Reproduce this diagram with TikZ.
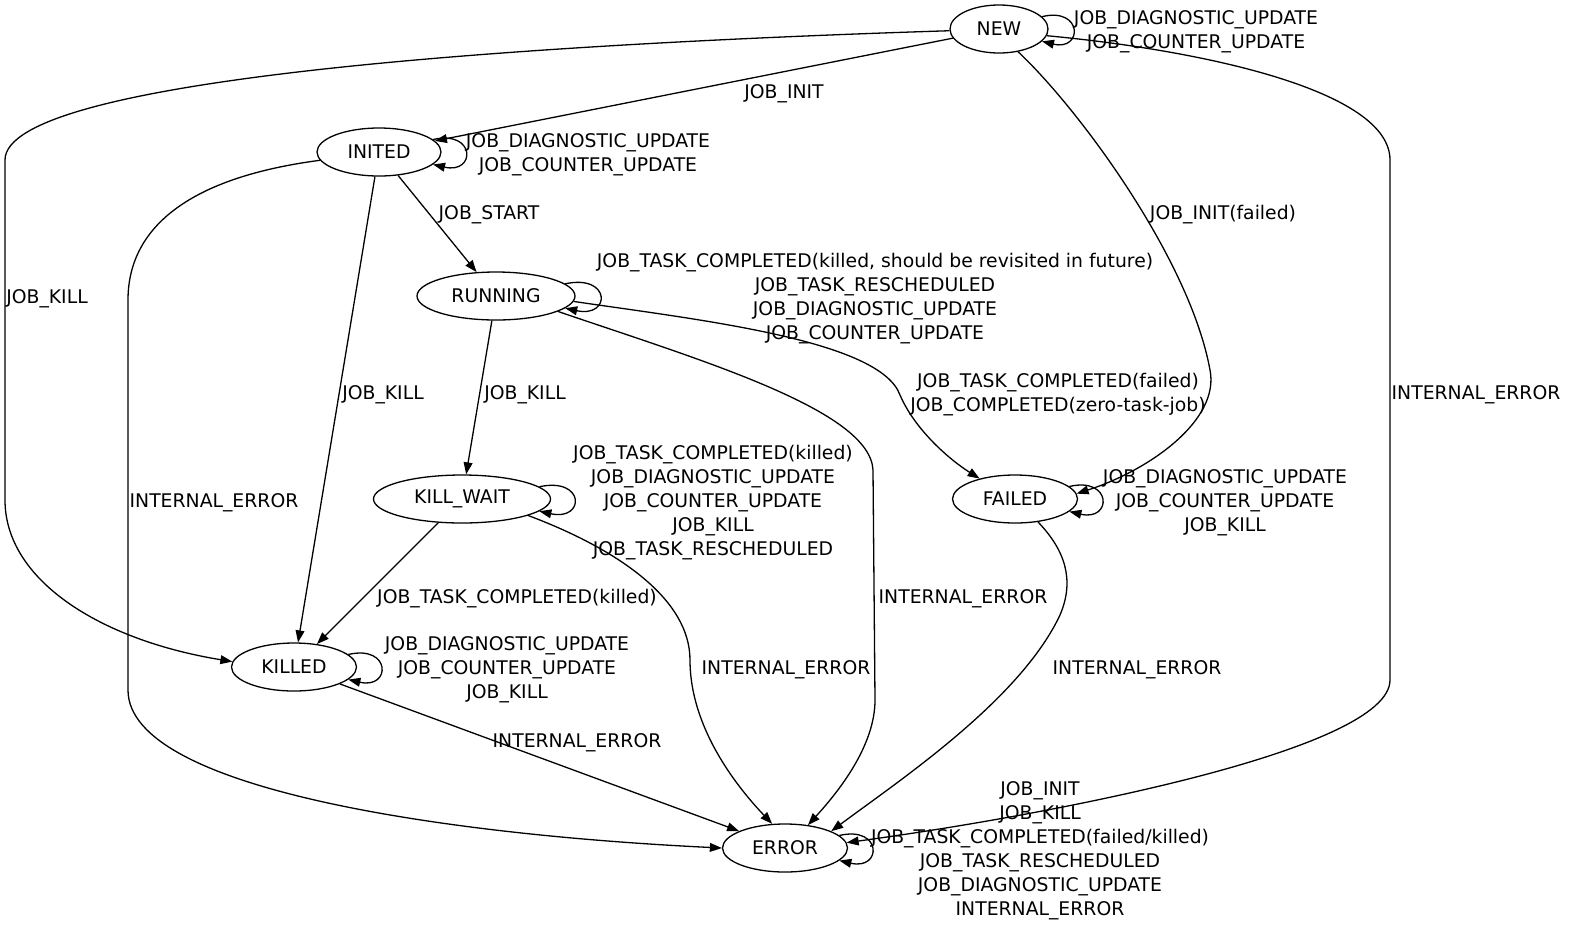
\documentclass[tikz,border=0pt]{standalone}
\usepackage{fontspec}
\setmainfont{DejaVu Sans}
\usetikzlibrary{shapes.geometric,arrows.meta}
\begin{document}
\begin{tikzpicture}[x=0.5pt,y=-0.5pt,
  st/.style={draw, ellipse, line width=0.65pt, inner sep=0pt, minimum height=24pt, font=\fontsize{9.4}{12}\selectfont},
  lbl/.style={align=center, inner sep=0pt, yshift=-1.5pt, font=\fontsize{9.4}{12}\selectfont},
  edge/.style={draw, line width=0.65pt, -{Triangle[length=6pt,width=4.4pt]}}]
\useasboundingbox[fill=white] (0,0) rectangle (1569,928);

% states
\node[st, minimum width=49pt]   (new)      at (999,29)   {NEW};
\node[st, minimum width=62pt]   (inited)   at (379,152)  {INITED};
\node[st, minimum width=79pt]   (running)  at (496,296)  {RUNNING};
\node[st, minimum width=88.5pt] (killwait) at (462,499)  {KILL\_WAIT};
\node[st, minimum width=62.5pt] (failed)   at (1015,499) {FAILED};
\node[st, minimum width=62.5pt] (killed)   at (294,667)  {KILLED};
\node[st, minimum width=62.5pt] (error)    at (785,848)  {ERROR};

% self loops
\draw[edge] (new.16) .. controls +(41,-10) and +(41,10) .. (new.-16);
\draw[edge] (inited.13) .. controls +(43,-10) and +(43,10) .. (inited.-13);
\draw[edge] (running.10) .. controls +(46,-10) and +(46,10) .. (running.-10);
\draw[edge] (killwait.9) .. controls +(46,-10) and +(46,10) .. (killwait.-9);
\draw[edge] (failed.13) .. controls +(43,-10) and +(43,10) .. (failed.-13);
\draw[edge] (killed.13) .. controls +(43,-10) and +(43,10) .. (killed.-13);
\draw[edge] (error.13) .. controls +(43,-10) and +(43,10) .. (error.-13);

% edges from NEW
\draw[edge] (new) -- (inited);
\draw[edge] (new.182) .. controls (500,45) and (5,80) .. (5,160) -- (5,500) .. controls (5,580) and (100,640) .. (killed.175);
\draw[edge] (new.-50) .. controls (1080,110) and (1190,260) .. (1210,370) .. controls (1220,420) and (1150,470) .. (failed.5);
\draw[edge] (new.-8) .. controls (1200,50) and (1390,90) .. (1390,160) -- (1390,680) .. controls (1390,750) and (1050,815) .. (error.5);

% edges from INITED
\draw[edge] (inited) -- (running);
\draw[edge] (inited) -- (killed);
\draw[edge] (inited.188) .. controls (185,178) and (128,230) .. (128,300) -- (128,690) .. controls (128,790) and (450,835) .. (error.180);

% edges from RUNNING
\draw[edge] (running) -- (killwait);
\draw[edge] (running.-4) .. controls (700,320) and (880,340) .. (900,395) .. controls (915,430) and (950,460) .. (failed.150);
\draw[edge] (running.-14) .. controls (700,360) and (870,410) .. (873,470) -- (875,700) .. controls (875,745) and (840,790) .. (error.45);

% edges from KILL_WAIT
\draw[edge] (killwait) -- (killed);
\draw[edge] (killwait.-14) .. controls (620,550) and (690,600) .. (690,660) .. controls (690,730) and (740,790) .. (error.118);

% edges from FAILED and KILLED
\draw[edge] (failed.-45) .. controls (1065,550) and (1075,580) .. (1060,615) .. controls (1020,700) and (900,780) .. (error.20);
\draw[edge] (killed) -- (error);

% labels
\node[lbl] (lnewloop) at (1196,29) {JOB\_DIAGNOSTIC\_UPDATE\\JOB\_COUNTER\_UPDATE};
\node[lbl] (lnewinit) at (784,91) {JOB\_INIT};
\node[lbl] (linitloop) at (588,152) {JOB\_DIAGNOSTIC\_UPDATE\\JOB\_COUNTER\_UPDATE};
\node[lbl] (lstart) at (489,212) {JOB\_START};
\node[lbl] (lnewkill) at (47,296) {JOB\_KILL};
\node[lbl] (lnewfail) at (1223,212) {JOB\_INIT(failed)};
\node[lbl] (lrunloop) at (875,296) {JOB\_TASK\_COMPLETED(killed, should be revisited in future)\\JOB\_TASK\_RESCHEDULED\\JOB\_DIAGNOSTIC\_UPDATE\\JOB\_COUNTER\_UPDATE};
\node[lbl] (lnewerr) at (1476,392) {INTERNAL\_ERROR};
\node[lbl] (linitkill) at (383,392) {JOB\_KILL};
\node[lbl] (lrunkill) at (525,392) {JOB\_KILL};
\node[lbl] (lrunfail) at (1058,392) {JOB\_TASK\_COMPLETED(failed)\\JOB\_COMPLETED(zero-task-job)};
\node[lbl] (lkwloop) at (713,500) {JOB\_TASK\_COMPLETED(killed)\\JOB\_DIAGNOSTIC\_UPDATE\\JOB\_COUNTER\_UPDATE\\JOB\_KILL\\JOB\_TASK\_RESCHEDULED};
\node[lbl] (lfailloop) at (1225,500) {JOB\_DIAGNOSTIC\_UPDATE\\JOB\_COUNTER\_UPDATE\\JOB\_KILL};
\node[lbl] (luniterr) at (214,500) {INTERNAL\_ERROR};
\node[lbl] (lkwkilled) at (517,596) {JOB\_TASK\_COMPLETED(killed)};
\node[lbl] (lrunerr) at (963,596) {INTERNAL\_ERROR};
\node[lbl] (lkilledloop) at (507,667) {JOB\_DIAGNOSTIC\_UPDATE\\JOB\_COUNTER\_UPDATE\\JOB\_KILL};
\node[lbl] (lkwerr) at (786,667) {INTERNAL\_ERROR};
\node[lbl] (lfailerr) at (1137,667) {INTERNAL\_ERROR};
\node[lbl] (lkillederr) at (577,740) {INTERNAL\_ERROR};
\node[lbl] (lerrloop) at (1040,848) {JOB\_INIT\\JOB\_KILL\\JOB\_TASK\_COMPLETED(failed/killed)\\JOB\_TASK\_RESCHEDULED\\JOB\_DIAGNOSTIC\_UPDATE\\INTERNAL\_ERROR};
\end{tikzpicture}
\end{document}
